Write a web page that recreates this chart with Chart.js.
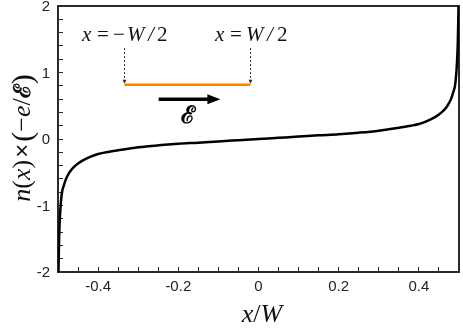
<!DOCTYPE html>
<html>
<head>
<meta charset="utf-8">
<script src="https://cdn.jsdelivr.net/npm/chart.js@4.4.0/dist/chart.umd.min.js"></script>
<style>
  html, body { margin: 0; padding: 0; background: #fff; }
</style>
</head>
<body>
<canvas id="densityChart" width="463" height="332"></canvas>
<script>
// x/W positions and n(x) x (-e/E)
const xOverW = [
  -0.4988, -0.498, -0.497, -0.496, -0.495, -0.494, -0.492, -0.49, -0.485, -0.48, -0.475, -0.47,
  -0.46, -0.45, -0.44, -0.42, -0.4, -0.38, -0.35, -0.3, -0.25, -0.2, -0.15, -0.1, -0.05,
  0,
  0.05, 0.1, 0.15, 0.2, 0.25, 0.3, 0.35, 0.38, 0.4, 0.42, 0.44, 0.45, 0.46,
  0.47, 0.475, 0.48, 0.485, 0.49, 0.492, 0.494, 0.495, 0.496, 0.497, 0.498, 0.4988
];
const density = [
  -2.0, -1.72, -1.45, -1.28, -1.15, -1.05, -0.9, -0.8, -0.69, -0.6, -0.54, -0.49,
  -0.42, -0.37, -0.33, -0.27, -0.225, -0.2, -0.17, -0.125, -0.095, -0.072, -0.055, -0.036, -0.018,
  0,
  0.018, 0.036, 0.055, 0.072, 0.095, 0.125, 0.17, 0.2, 0.225, 0.27, 0.33, 0.37, 0.42,
  0.49, 0.54, 0.6, 0.69, 0.8, 0.9, 1.05, 1.15, 1.28, 1.45, 1.72, 2.0
];
const xTickValues = [-0.4, -0.2, 0, 0.2, 0.4];
const xTickLabels = ['-0.4', '-0.2', '0', '0.2', '0.4'];
const xMarkValues = [-0.45, -0.4, -0.35, -0.3, -0.25, -0.2, -0.15, -0.1, -0.05, 0,
                     0.05, 0.1, 0.15, 0.2, 0.25, 0.3, 0.35, 0.4, 0.45];
const yTickValues = [-2, -1, 0, 1, 2];
const yTickLabels = ['-2', '-1', '0', '1', '2'];
const yMarkValues = [-1.8, -1.6, -1.4, -1.2, -1, -0.8, -0.6, -0.4, -0.2, 0,
                     0.2, 0.4, 0.6, 0.8, 1, 1.2, 1.4, 1.6, 1.8];

const SERIF = '"Liberation Serif", "Times New Roman", serif';
const SANS = '"Liberation Sans", Arial, sans-serif';
const SCRIPT_FONT = '"DejaVu Serif", serif';
const SCRIPT_E = '\u2130';
const FRAME = '#2a2a2a';

// pieces placed at fixed offsets from x0
function drawPlaced(ctx, pieces, x0, y) {
    ctx.textAlign = 'left';
    pieces.forEach(p => {
        ctx.font = p.font;
        ctx.fillText(p.t, x0 + p.dx, y + (p.dy || 0));
    });
}

// pieces one after another, centred on x
function drawRun(ctx, pieces, x, y) {
    let total = 0;
    pieces.forEach(p => { ctx.font = p.font; total += ctx.measureText(p.t).width + (p.gap || 0); });
    let cx = x - total / 2;
    ctx.textAlign = 'left';
    pieces.forEach(p => {
        ctx.font = p.font;
        ctx.fillText(p.t, cx, y + (p.dy || 0));
        cx += ctx.measureText(p.t).width + (p.gap || 0);
    });
}

function arrowHead(ctx, x, y, dir, len, half) {
    ctx.beginPath();
    if (dir === 'down') {
        ctx.moveTo(x, y);
        ctx.lineTo(x - half, y - len);
        ctx.lineTo(x + half, y - len);
    } else {
        ctx.moveTo(x, y);
        ctx.lineTo(x - len, y - half);
        ctx.lineTo(x - len, y + half);
    }
    ctx.closePath();
    ctx.fill();
}

// titles, tick labels and the strip sketch
const labelPlugin = {
    id: 'labelPlugin',
    afterDraw(chart) {
        const ctx = chart.ctx;
        const area = chart.chartArea;
        const xs = chart.scales.x;
        const ys = chart.scales.y;
        ctx.save();

        ctx.fillStyle = '#222';
        ctx.font = '15px ' + SANS;
        ctx.textAlign = 'center';
        ctx.textBaseline = 'alphabetic';
        xTickValues.forEach((v, i) => {
            ctx.fillText(xTickLabels[i], xs.getPixelForValue(v), area.bottom + 19);
        });
        ctx.textAlign = 'right';
        yTickValues.forEach((v, i) => {
            ctx.fillText(yTickLabels[i], area.left - 8, ys.getPixelForValue(v) + 5);
        });

        ctx.fillStyle = '#111';
        drawRun(ctx, [
            { t: 'x', font: 'italic 26px ' + SERIF },
            { t: '/', font: '26px ' + SERIF },
            { t: 'W', font: 'italic 26px ' + SERIF }
        ], 262, 322);

        ctx.save();
        ctx.translate(30, 138);
        ctx.rotate(-Math.PI / 2);
        drawRun(ctx, [
            { t: 'n', font: 'italic 26px ' + SERIF },
            { t: '(', font: '26px ' + SERIF },
            { t: 'x', font: 'italic 26px ' + SERIF },
            { t: ')', font: '26px ' + SERIF, gap: 2 },
            { t: '\u00d7', font: '24px ' + SANS, gap: 2 },
            { t: '(', font: '30px ' + SERIF, dy: 2 },
            { t: '\u2212', font: '26px ' + SERIF },
            { t: 'e', font: 'italic 26px ' + SERIF },
            { t: '/', font: '26px ' + SERIF },
            { t: SCRIPT_E, font: 'bold 23px ' + SCRIPT_FONT },
            { t: ')', font: '30px ' + SERIF, dy: 2 }
        ], 0, 0);
        ctx.restore();

        drawPlaced(ctx, [
            { t: 'x', font: 'italic 21px ' + SERIF, dx: 0 },
            { t: '=', font: '21px ' + SERIF, dx: 15 },
            { t: '\u2212', font: '21px ' + SERIF, dx: 31 },
            { t: 'W', font: 'italic 21px ' + SERIF, dx: 45 },
            { t: '/', font: 'italic 21px ' + SERIF, dx: 66 },
            { t: '2', font: '21px ' + SERIF, dx: 75 }
        ], 82, 41);
        drawPlaced(ctx, [
            { t: 'x', font: 'italic 21px ' + SERIF, dx: 0 },
            { t: '=', font: '21px ' + SERIF, dx: 15 },
            { t: 'W', font: 'italic 21px ' + SERIF, dx: 31 },
            { t: '/', font: 'italic 21px ' + SERIF, dx: 52 },
            { t: '2', font: '21px ' + SERIF, dx: 62 }
        ], 215, 41);

        // dashed pointers to the strip ends, drawn as short segments
        const leftX = Math.round(xs.getPixelForValue(-0.335));
        const rightX = Math.round(xs.getPixelForValue(-0.021));
        const stripY = ys.getPixelForValue(0.815);
        const dashTop = Math.round(ys.getPixelForValue(1.37));
        ctx.fillStyle = '#333';
        [leftX, rightX].forEach(px => {
            for (let y = dashTop; y < stripY - 4; y += 4) {
                ctx.fillRect(px, y, 1, 2);
            }
            arrowHead(ctx, px + 0.5, stripY - 1, 'down', 4, 2);
        });

        ctx.strokeStyle = '#ff7f00';
        ctx.lineWidth = 2.5;
        ctx.beginPath();
        ctx.moveTo(leftX + 0.5, stripY);
        ctx.lineTo(rightX + 0.5, stripY);
        ctx.stroke();

        // field arrow
        const fieldY = ys.getPixelForValue(0.596);
        const fx0 = xs.getPixelForValue(-0.249);
        const fx1 = xs.getPixelForValue(-0.095);
        ctx.strokeStyle = '#000';
        ctx.fillStyle = '#000';
        ctx.lineWidth = 3.5;
        ctx.beginPath();
        ctx.moveTo(fx0, fieldY);
        ctx.lineTo(fx1 - 10, fieldY);
        ctx.stroke();
        arrowHead(ctx, fx1, fieldY, 'right', 13, 5);

        ctx.font = 'bold 24px ' + SCRIPT_FONT;
        ctx.textAlign = 'center';
        ctx.fillText(SCRIPT_E, 188, 123);

        ctx.restore();
    }
};

// axis that only contributes a border line on one side of the plot
function frameSide(position, min, max) {
    return {
        type: 'linear',
        position: position,
        min: min,
        max: max,
        afterFit: s => { if (position === 'top') s.height = 0; else s.width = 0; },
        grid: { display: false },
        border: { display: true, color: FRAME, width: 2 },
        ticks: { display: false }
    };
}

new Chart(document.getElementById('densityChart'), {
    type: 'scatter',
    data: {
        datasets: [{
            data: xOverW.map((x, i) => ({ x: x, y: density[i] })),
            showLine: true,
            borderColor: '#000',
            borderWidth: 2.5,
            pointRadius: 0,
            cubicInterpolationMode: 'monotone'
        }]
    },
    options: {
        responsive: false,
        animation: false,
        devicePixelRatio: 1,
        layout: { padding: { left: 0, right: 4, top: 6, bottom: 0 } },
        plugins: { legend: { display: false }, tooltip: { enabled: false } },
        scales: {
            x: {
                type: 'linear', min: -0.5, max: 0.5,
                afterBuildTicks: s => { s.ticks = xMarkValues.map(v => ({ value: v })); },
                afterFit: s => { s.height = 60; },
                grid: {
                    display: true,
                    drawOnChartArea: false,
                    drawTicks: true,
                    tickLength: -5,
                    tickWidth: 1,
                    tickColor: FRAME
                },
                border: { display: true, color: FRAME, width: 2 },
                ticks: { display: false }
            },
            y: {
                type: 'linear', min: -2, max: 2,
                afterBuildTicks: s => { s.ticks = yMarkValues.map(v => ({ value: v })); },
                afterFit: s => { s.width = 58; },
                grid: {
                    display: true,
                    drawOnChartArea: false,
                    drawTicks: true,
                    tickLength: -5,
                    tickWidth: 1,
                    tickColor: FRAME
                },
                border: { display: true, color: FRAME, width: 2 },
                ticks: { display: false }
            },
            xTop: frameSide('top', -0.5, 0.5),
            yRight: frameSide('right', -2, 2)
        }
    },
    plugins: [labelPlugin]
});
</script>
</body>
</html>
